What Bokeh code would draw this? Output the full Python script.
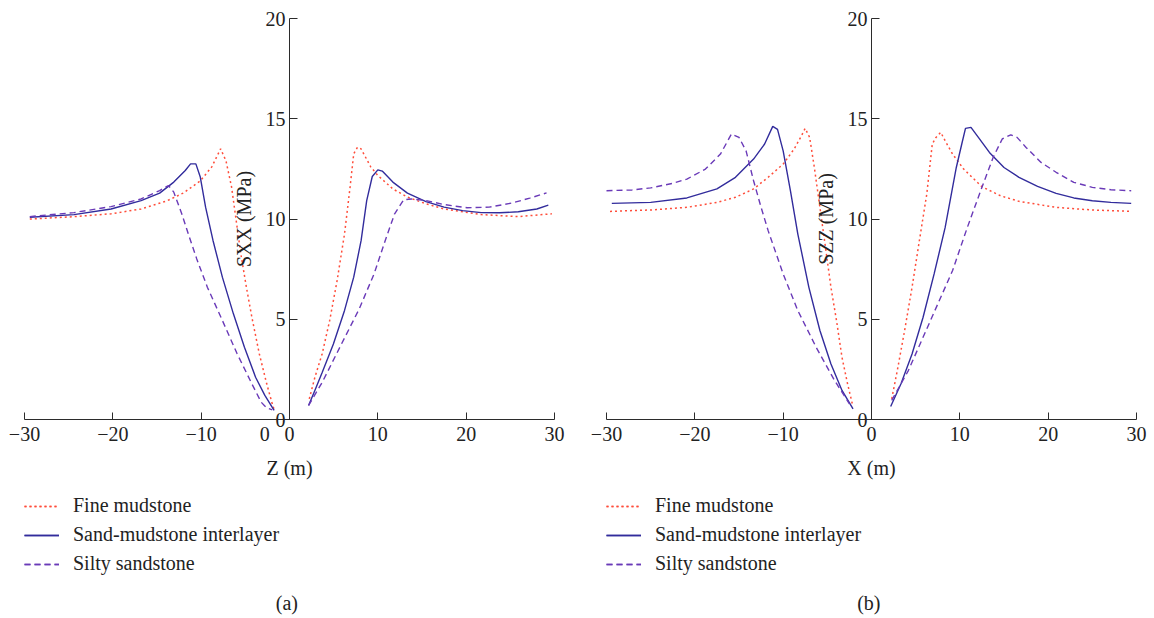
from bokeh.plotting import figure
from bokeh.layouts import row
from bokeh.models import FixedTicker, Legend, LegendItem, Label
from bokeh.embed import file_html
from bokeh.resources import INLINE

FONT = "Liberation Serif"

series_names = ["Fine mudstone", "Sand-mudstone interlayer", "Silty sandstone"]
x_ticks = [-30, -20, -10, 0, 10, 20, 30]
y_ticks = [0, 5, 10, 15, 20]

# ---------------- Panel (a): SXX ----------------
fine_a_left_x = [-29.4, -25.0, -20.2, -16.8, -13.9, -12.0, -10.1, -8.8, -7.8, -7.19, -6.56, -6.14, -5.51, -4.88, -4.26, -3.42, -2.58, -1.95, -1.7]
fine_a_left_y = [10.0, 10.1, 10.26, 10.5, 10.9, 11.3, 11.9, 12.6, 13.5, 12.9, 11.6, 10.26, 8.26, 6.6, 5.1, 3.28, 1.78, 0.78, 0.45]
fine_a_right_x = [2.24, 2.87, 3.7, 4.55, 5.39, 6.23, 6.86, 7.27, 7.69, 8.1, 9.2, 10.0, 11.7, 13.35, 15.45, 17.5, 21.7, 25.9, 29.7]
fine_a_right_y = [1.03, 2.1, 3.28, 4.94, 6.93, 9.26, 11.6, 13.25, 13.58, 13.5, 12.6, 12.17, 11.5, 11.09, 10.76, 10.5, 10.22, 10.12, 10.26]

sand_a_left_x = [-29.4, -24.4, -20.2, -16.8, -14.7, -13.1, -11.8, -11.2, -10.6, -10.1, -9.5, -8.66, -7.6, -6.35, -5.1, -3.84, -2.79, -1.74]
sand_a_left_y = [10.09, 10.22, 10.5, 10.92, 11.29, 11.84, 12.42, 12.75, 12.75, 12.09, 10.59, 8.93, 7.1, 5.27, 3.6, 2.11, 1.2, 0.45]
sand_a_right_x = [2.16, 2.87, 3.71, 4.97, 6.23, 7.27, 8.11, 8.74, 9.37, 10.0, 10.5, 11.7, 13.35, 15.45, 17.5, 19.6, 21.7, 23.8, 25.9, 28.0, 29.3]
sand_a_right_y = [0.7, 1.45, 2.36, 3.77, 5.44, 7.1, 8.93, 10.92, 12.12, 12.45, 12.39, 11.84, 11.29, 10.87, 10.59, 10.42, 10.32, 10.31, 10.36, 10.5, 10.69]

silty_a_left_x = [-29.4, -24.4, -20.2, -16.8, -14.7, -13.7, -13.1, -12.2, -11.4, -10.5, -9.3, -7.6, -5.93, -4.26, -3.2, -2.58, -1.95]
silty_a_left_y = [10.12, 10.32, 10.62, 11.0, 11.42, 11.67, 11.34, 10.26, 9.18, 8.01, 6.6, 4.94, 3.28, 1.78, 0.86, 0.58, 0.48]
silty_a_right_x = [2.16, 3.71, 5.8, 7.9, 9.58, 10.84, 11.9, 12.93, 13.77, 15.45, 17.5, 20.1, 22.6, 25.1, 27.2, 29.1]
silty_a_right_y = [0.7, 1.86, 3.69, 5.52, 7.27, 8.93, 10.26, 10.96, 11.0, 10.92, 10.72, 10.56, 10.59, 10.79, 11.04, 11.3]

# ---------------- Panel (b): SZZ ----------------
fine_b_left_x = [-29.6, -25.0, -20.9, -17.5, -15.4, -13.35, -11.7, -10.0, -8.76, -7.93, -7.51, -7.0, -6.47, -5.84, -5.21, -4.59, -3.96, -3.34, -2.71, -2.17]
fine_b_left_y = [10.38, 10.45, 10.58, 10.83, 11.08, 11.5, 12.08, 12.74, 13.49, 14.15, 14.52, 14.07, 12.57, 10.58, 8.59, 6.59, 4.93, 3.1, 1.78, 0.78]
fine_b_right_x = [2.29, 2.92, 3.75, 4.59, 5.42, 6.26, 6.88, 7.3, 7.84, 8.34, 9.18, 10.43, 12.5, 14.6, 16.7, 20.9, 25.0, 29.4]
fine_b_right_y = [1.03, 2.44, 4.44, 6.59, 8.92, 11.25, 13.74, 14.07, 14.32, 13.9, 13.24, 12.49, 11.61, 11.16, 10.88, 10.58, 10.45, 10.38]

sand_b_left_x = [-29.4, -25.0, -20.9, -17.5, -15.4, -13.35, -12.1, -11.18, -10.64, -10.0, -9.18, -8.34, -7.09, -5.84, -4.59, -3.34, -2.09]
sand_b_left_y = [10.78, 10.83, 11.05, 11.5, 12.08, 12.99, 13.74, 14.62, 14.47, 13.4, 11.41, 9.25, 6.59, 4.44, 2.77, 1.45, 0.53]
sand_b_right_x = [2.17, 3.34, 4.59, 5.84, 7.09, 8.34, 9.6, 10.22, 10.64, 11.26, 12.1, 13.35, 15.0, 16.7, 18.8, 20.9, 22.9, 25.0, 27.1, 29.4]
sand_b_right_y = [0.65, 1.78, 3.27, 5.1, 7.26, 9.58, 12.57, 13.74, 14.52, 14.57, 14.07, 13.32, 12.57, 12.08, 11.63, 11.28, 11.05, 10.91, 10.83, 10.78]

silty_b_left_x = [-30.0, -27.1, -25.0, -22.5, -20.9, -18.8, -17.1, -15.85, -15.0, -14.2, -13.35, -12.5, -11.7, -10.0, -8.34, -6.26, -4.17, -2.5]
silty_b_left_y = [11.41, 11.45, 11.55, 11.78, 11.99, 12.49, 13.24, 14.24, 14.07, 13.4, 11.91, 10.58, 9.42, 7.26, 5.43, 3.6, 1.94, 0.78]
silty_b_right_x = [2.29, 4.17, 6.67, 9.18, 10.85, 12.5, 13.77, 14.8, 15.77, 16.48, 17.5, 19.2, 20.9, 22.9, 25.0, 27.1, 29.4]
silty_b_right_y = [0.95, 2.44, 4.93, 7.43, 9.58, 11.58, 13.07, 13.99, 14.2, 14.07, 13.57, 12.82, 12.33, 11.83, 11.58, 11.46, 11.41]

STYLES = [
    dict(line_color="#FF4D3A", line_width=1.5, line_dash="2 3"),
    dict(line_color="#322C9C", line_width=1.4, line_dash="solid"),
    dict(line_color="#6A3AB8", line_width=1.4, line_dash="6 4"),
]

AXIS_COLOR = "#2b2b2b"
TEXT_COLOR = "#222222"

FIG_H = 616
PX_PER_X = 530 / 60.0      # horizontal pixels per metre
PX_TOP = 18                # pixels above y = 20
PX_PER_Y = 401 / 20.0      # vertical pixels per MPa
Y_TOP = 20 + PX_TOP / PX_PER_Y
Y_BOTTOM = 20 - FIG_H / PX_PER_Y + PX_TOP / PX_PER_Y


def minus(v):
    return ("\u2212" + str(abs(v))) if v < 0 else str(v)


def make_panel(width, pad_left, xlabel, ylabel, caption, data, extra_zero):
    pad_right = width - pad_left - 530
    x0 = -30 - pad_left / PX_PER_X
    x1 = 30 + pad_right / PX_PER_X
    p = figure(width=width, height=FIG_H, x_range=(x0, x1), y_range=(Y_BOTTOM, Y_TOP),
               output_backend="svg", toolbar_location=None,
               min_border_left=0, min_border_right=0,
               min_border_top=0, min_border_bottom=0)
    p.grid.visible = False
    p.outline_line_color = None
    p.background_fill_color = None
    p.border_fill_color = None

    xa = p.xaxis[0]
    xa.fixed_location = 0
    xa.bounds = (-30, 30)
    xa.ticker = FixedTicker(ticks=x_ticks)
    xa.major_label_overrides = {t: minus(t) for t in x_ticks}
    xa.major_tick_in = 7
    xa.major_tick_out = 0
    xa.minor_tick_line_color = None
    xa.axis_line_color = AXIS_COLOR
    xa.major_tick_line_color = AXIS_COLOR
    xa.major_label_standoff = 7
    xa.major_label_text_font = FONT
    xa.major_label_text_font_size = "20px"
    xa.major_label_text_color = TEXT_COLOR
    xa.axis_label = xlabel
    xa.axis_label_text_font = FONT
    xa.axis_label_text_font_size = "20px"
    xa.axis_label_text_font_style = "normal"
    xa.axis_label_text_color = TEXT_COLOR
    xa.axis_label_standoff = 13

    ya = p.yaxis[0]
    ya.fixed_location = 0
    ya.bounds = (0, 20)
    ya.ticker = FixedTicker(ticks=y_ticks)
    ya.major_tick_in = 8
    ya.major_tick_out = 0
    ya.minor_tick_line_color = None
    ya.axis_line_color = AXIS_COLOR
    ya.major_tick_line_color = AXIS_COLOR
    ya.major_label_standoff = 4
    ya.major_label_text_font = FONT
    ya.major_label_text_font_size = "20px"
    ya.major_label_text_color = TEXT_COLOR
    ya.axis_label = ylabel
    ya.axis_label_text_font = FONT
    ya.axis_label_text_font_size = "20px"
    ya.axis_label_text_font_style = "normal"
    ya.axis_label_text_color = TEXT_COLOR
    ya.axis_label_standoff = 8

    items = []
    for name, style, (lx, ly, rx, ry) in zip(series_names, STYLES, data):
        r1 = p.line(lx, ly, **style)
        r2 = p.line(rx, ry, **style)
        items.append(LegendItem(label=name, renderers=[r1, r2]))

    legend = Legend(items=items, location=(pad_left, 41), orientation="vertical",
                    padding=0, margin=0, spacing=6, glyph_width=35, glyph_height=20,
                    label_height=20, label_standoff=14,
                    label_text_font=FONT, label_text_font_size="20px",
                    label_text_color=TEXT_COLOR,
                    border_line_color=None, background_fill_alpha=0)
    p.add_layout(legend)

    p.add_layout(Label(x=-0.3, y=FIG_H - 602, y_units="screen", text=caption,
                       text_align="center", text_baseline="middle",
                       text_font=FONT, text_font_size="20px", text_color=TEXT_COLOR))
    if extra_zero:
        p.add_layout(Label(x=-2.8, y=-0.71, text="0",
                           text_align="center", text_baseline="middle",
                           text_font=FONT, text_font_size="20px", text_color=TEXT_COLOR))
    return p


pa = make_panel(588, 24, "Z (m)", "SXX (MPa)", "(a)",
                [(fine_a_left_x, fine_a_left_y, fine_a_right_x, fine_a_right_y),
                 (sand_a_left_x, sand_a_left_y, sand_a_right_x, sand_a_right_y),
                 (silty_a_left_x, silty_a_left_y, silty_a_right_x, silty_a_right_y)],
                True)
pb = make_panel(564, 18, "X (m)", "SZZ (MPa)", "(b)",
                [(fine_b_left_x, fine_b_left_y, fine_b_right_x, fine_b_right_y),
                 (sand_b_left_x, sand_b_left_y, sand_b_right_x, sand_b_right_y),
                 (silty_b_left_x, silty_b_left_y, silty_b_right_x, silty_b_right_y)],
                False)

layout = row(pa, pb)
open("out.html", "w").write(file_html(layout, INLINE))
